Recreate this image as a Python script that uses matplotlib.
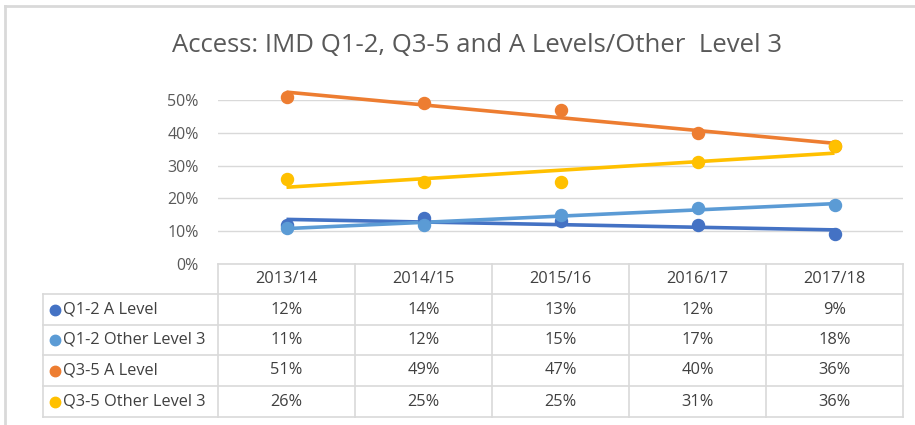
import matplotlib.pyplot as plt
import numpy as np
from matplotlib.lines import Line2D

# data
years = ['2013/14', '2014/15', '2015/16', '2016/17', '2017/18']
series = ['Q1-2 A Level', 'Q1-2 Other Level 3', 'Q3-5 A Level', 'Q3-5 Other Level 3']
q12_a = [12, 14, 13, 12, 9]
q12_other = [11, 12, 15, 17, 18]
q35_a = [51, 49, 47, 40, 36]
q35_other = [26, 25, 25, 31, 36]
colors = ['#4472C4', '#5B9BD5', '#ED7D31', '#FFC000']
values = [q12_a, q12_other, q35_a, q35_other]

W, H = 915, 425
plt.rcParams['font.family'] = ['Open Sans', 'DejaVu Sans']
fig = plt.figure(figsize=(W / 100, H / 100), dpi=100)

def fx(px):
    return px / W

def fy(py):
    return 1 - py / H

# plot area in pixels
left, right, top, bottom = 218, 903, 100, 264
ax = fig.add_axes([fx(left), fy(bottom), fx(right) - fx(left), fy(top) - fy(bottom)])
x = np.arange(len(years))
for vals, c in zip(values, colors):
    y = np.array(vals) / 100
    ax.scatter(x, y, s=75, color=c, zorder=3, clip_on=False)
    k, b = np.polyfit(x, y, 1)
    ax.plot([x[0], x[-1]], [b, k * x[-1] + b], color=c, lw=2.6, zorder=2,
            solid_capstyle='butt', clip_on=False)

ax.set_xlim(-0.5, len(years) - 0.5)
ax.set_ylim(0, 0.5)
ax.set_yticks(np.arange(0, 0.51, 0.1))
ax.set_yticklabels([f'{int(round(t * 100))}%' for t in np.arange(0, 0.51, 0.1)])
ax.tick_params(axis='y', length=0, pad=14, labelsize=11.5, labelcolor='#595959')
ax.set_xticks([])
ax.grid(axis='y', color='#D9D9D9', lw=1)
ax.set_axisbelow(True)
for s in ax.spines.values():
    s.set_visible(False)

# data table
grid = '#D9D9D9'
txt = '#404040'
fs = 11.8
col_w = (right - left) / len(years)
row_edges = [264, 294, 325, 355, 386, 417]
label_left = 43

def hline(py, x0, x1):
    fig.add_artist(Line2D([fx(x0), fx(x1)], [fy(py), fy(py)], color=grid, lw=1.2))

def vline(px, y0, y1):
    fig.add_artist(Line2D([fx(px), fx(px)], [fy(y0), fy(y1)], color=grid, lw=1.2))

hline(row_edges[0], left, right)
for py in row_edges[1:]:
    hline(py, label_left, right)
for i in range(len(years) + 1):
    vline(left + i * col_w, row_edges[0], row_edges[-1])
vline(label_left, row_edges[1], row_edges[-1])

for i, yr in enumerate(years):
    cx = left + (i + 0.5) * col_w
    fig.text(fx(cx), fy((row_edges[0] + row_edges[1]) / 2), yr, ha='center', va='center',
             fontsize=fs, color=txt)
for r, (name, vals, c) in enumerate(zip(series, values, colors)):
    cy = (row_edges[r + 1] + row_edges[r + 2]) / 2
    fig.add_artist(Line2D([fx(55)], [fy(cy)], marker='o', markersize=7.5, color=c, lw=0))
    fig.text(fx(63), fy(cy), name, ha='left', va='center', fontsize=fs, color=txt)
    for i, v in enumerate(vals):
        cx = left + (i + 0.5) * col_w
        fig.text(fx(cx), fy(cy), f'{v}%', ha='center', va='center', fontsize=fs, color=txt)

# title and outer frame
fig.text(fx(477), fy(45), 'Access: IMD Q1-2, Q3-5 and A Levels/Other  Level 3', ha='center',
         va='center', fontsize=18.5, color='#595959')
fig.add_artist(Line2D([fx(5), fx(W)], [fy(6), fy(6)], color='#D9D9D9', lw=2))
fig.add_artist(Line2D([fx(5), fx(5)], [fy(6), fy(H)], color='#D9D9D9', lw=2))

fig.savefig('out.png', dpi=100)
